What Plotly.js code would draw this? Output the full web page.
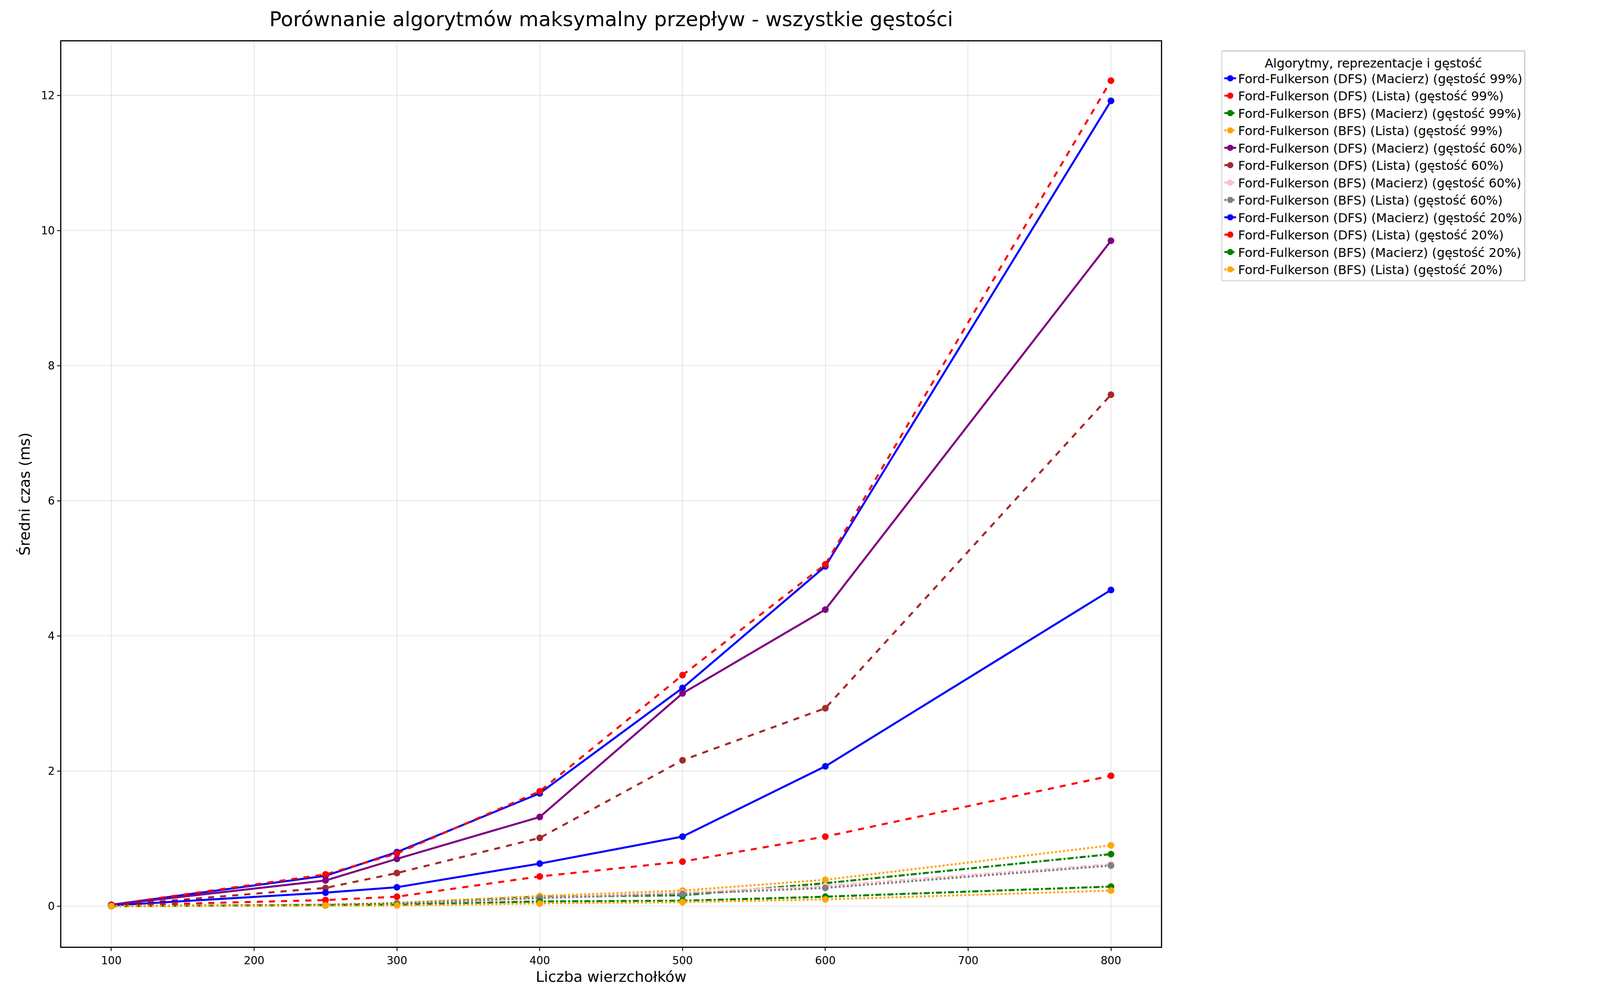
<!DOCTYPE html>
<html>
<head>
<meta charset="utf-8">
<script src="https://cdn.plot.ly/plotly-3.0.1.min.js"></script>
<style>html,body{margin:0;padding:0;overflow:hidden;background:#fff}</style>
</head>
<body>
<div id="chart"></div>
<script>
const vertices = [100, 250, 300, 400, 500, 600, 800];

const dfsMatrix99 = [0.02, 0.45, 0.80, 1.67, 3.23, 5.03, 11.92];
const dfsList99 = [0.02, 0.47, 0.78, 1.70, 3.42, 5.06, 12.22];
const bfsMatrix99 = [0.00, 0.02, 0.04, 0.14, 0.16, 0.34, 0.77];
const bfsList99 = [0.00, 0.02, 0.05, 0.15, 0.23, 0.39, 0.90];
const dfsMatrix60 = [0.02, 0.38, 0.70, 1.32, 3.15, 4.39, 9.85];
const dfsList60 = [0.01, 0.27, 0.49, 1.01, 2.16, 2.93, 7.57];
const bfsMatrix60 = [0.00, 0.02, 0.04, 0.12, 0.20, 0.30, 0.62];
const bfsList60 = [0.00, 0.02, 0.04, 0.12, 0.18, 0.27, 0.60];
const dfsMatrix20 = [0.01, 0.20, 0.28, 0.63, 1.03, 2.07, 4.68];
const dfsList20 = [0.01, 0.09, 0.14, 0.44, 0.66, 1.03, 1.93];
const bfsMatrix20 = [0.00, 0.01, 0.02, 0.07, 0.08, 0.14, 0.29];
const bfsList20 = [0.00, 0.01, 0.01, 0.04, 0.06, 0.10, 0.23];

const series = [
    ['Ford-Fulkerson (DFS) (Macierz) (gęstość 99%)', dfsMatrix99, 'blue', 'solid'],
    ['Ford-Fulkerson (DFS) (Lista) (gęstość 99%)', dfsList99, 'red', 'dash'],
    ['Ford-Fulkerson (BFS) (Macierz) (gęstość 99%)', bfsMatrix99, 'green', 'dashdot'],
    ['Ford-Fulkerson (BFS) (Lista) (gęstość 99%)', bfsList99, 'orange', 'dot'],
    ['Ford-Fulkerson (DFS) (Macierz) (gęstość 60%)', dfsMatrix60, 'purple', 'solid'],
    ['Ford-Fulkerson (DFS) (Lista) (gęstość 60%)', dfsList60, 'brown', 'dash'],
    ['Ford-Fulkerson (BFS) (Macierz) (gęstość 60%)', bfsMatrix60, 'pink', 'dashdot'],
    ['Ford-Fulkerson (BFS) (Lista) (gęstość 60%)', bfsList60, 'gray', 'dot'],
    ['Ford-Fulkerson (DFS) (Macierz) (gęstość 20%)', dfsMatrix20, 'blue', 'solid'],
    ['Ford-Fulkerson (DFS) (Lista) (gęstość 20%)', dfsList20, 'red', 'dash'],
    ['Ford-Fulkerson (BFS) (Macierz) (gęstość 20%)', bfsMatrix20, 'green', 'dashdot'],
    ['Ford-Fulkerson (BFS) (Lista) (gęstość 20%)', bfsList20, 'orange', 'dot']
];

// size everything from the real viewport so nothing gets cut off
const W = window.innerWidth || 4749;
const H = window.innerHeight || 2581;
const k = Math.min(W / 4749, H / 2581);

const data = series.map(s => ({
    x: vertices,
    y: s[1],
    name: s[0],
    type: 'scatter',
    mode: 'lines+markers',
    line: {color: s[2], dash: s[3], width: 6 * k},
    marker: {color: s[2], size: 20 * k}
}));

const axisFont = {family: 'DejaVu Sans', size: 32 * k, color: '#000'};

const layout = {
    width: W,
    height: H,
    margin: {l: W * 0.0383, r: W * 0.2744, t: H * 0.041, b: H * 0.061},
    font: {family: 'DejaVu Sans', color: '#000'},
    paper_bgcolor: '#fff',
    plot_bgcolor: '#fff',
    title: {
        text: 'Porównanie algorytmów maksymalny przepływ - wszystkie gęstości',
        font: {family: 'DejaVu Sans', size: 60 * k},
        x: 0.382, xanchor: 'center', y: 0.988, yanchor: 'top'
    },
    xaxis: {
        range: [65, 835],
        tickvals: [100, 200, 300, 400, 500, 600, 700, 800],
        tickfont: axisFont,
        ticks: 'outside', ticklen: 10 * k, tickwidth: 3 * k,
        showline: true, mirror: true, linecolor: '#000', linewidth: 3 * k,
        showgrid: true, gridcolor: 'rgba(0,0,0,0.1)', gridwidth: 2 * k,
        zeroline: false,
        title: {text: 'Liczba wierzchołków', font: {family: 'DejaVu Sans', size: 44 * k}, standoff: 15 * k}
    },
    yaxis: {
        range: [-0.6, 12.8],
        tickvals: [0, 2, 4, 6, 8, 10, 12],
        tickfont: axisFont,
        ticks: 'outside', ticklen: 10 * k, tickwidth: 3 * k,
        showline: true, mirror: true, linecolor: '#000', linewidth: 3 * k,
        showgrid: true, gridcolor: 'rgba(0,0,0,0.1)', gridwidth: 2 * k,
        zeroline: false,
        title: {text: 'Średni czas (ms)', font: {family: 'DejaVu Sans', size: 44 * k}, standoff: 20 * k}
    },
    legend: {
        x: 1.055, xanchor: 'left', y: 0.99, yanchor: 'top',
        bordercolor: '#ccc', borderwidth: 3 * k,
        font: {family: 'DejaVu Sans', size: 37 * k},
        title: {text: 'Algorytmy, reprezentacje i gęstość', font: {family: 'DejaVu Sans', size: 37 * k}, side: 'top center'},
        tracegroupgap: 0
    },
    showlegend: true
};

Plotly.newPlot('chart', data, layout, {displayModeBar: false});
</script>
</body>
</html>
